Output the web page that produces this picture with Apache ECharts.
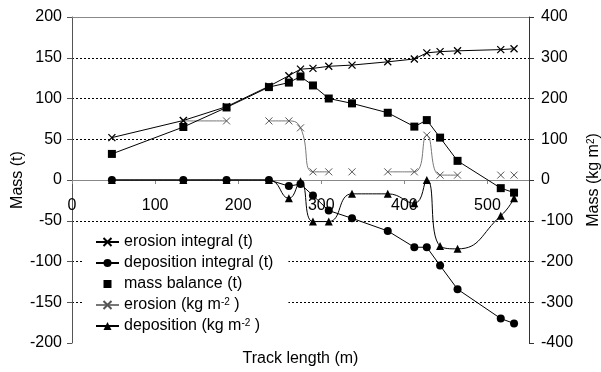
<!DOCTYPE html>
<html>
<head>
<meta charset="utf-8">
<script src="https://cdn.jsdelivr.net/npm/echarts@6/dist/echarts.min.js"></script>
<style>
  html, body { margin: 0; padding: 0; background: #fff; }
  #chart { width: 601px; height: 372px; }
</style>
</head>
<body>
<div id="chart"></div>
<script>
// track positions (m) shared by the integral series
const trackX = [48, 134, 186, 237, 261, 275, 290, 309, 337, 380, 412, 427, 443, 464, 516, 532]
const erosionIntegral = [52, 73, 90, 115, 128, 136, 137, 139.5, 141, 145, 148.5, 156, 157.5, 158.5, 160, 161]
const depositionIntegral = [0, 0, 0, 0, -7.5, -5, -19, -37.5, -47, -62.5, -82.5, -82.5, -105, -134, -170, -176]
const massBalance = [32, 65, 89, 114, 119.5, 127, 116, 100, 94, 82.5, 65.5, 73.5, 52, 23.5, -10, -15.5]
const depositionKg = [0, 0, 0, 0, -45, -3, -102, -102, -34, -34, -57, 0, -162, -169, -88, -45]
// erosion (kg m-2) has breaks in the record, null = no value
const erosionX = [134, 186, 211, 237, 261, 275, 290, 309, 323, 337, 358, 380, 412, 427, 443, 464, 490, 516, 524, 532]
const erosionKg = [145, 145, null, 145, 145, 128, 20, 20, null, 20, null, 20, 20, 110, 12, 12, null, 12, null, 12]

const leftTicks = [-200, 200, 50]
const rightTicks = [-400, 400, 100]
const xTicks = [0, 550, 100]

const FONT = 'Liberation Sans, Arial, sans-serif'
const crossSymbol = 'path://M0,0L10,10M10,0L0,10'

const pairs = (xs, ys) => xs.map((x, i) => [x, ys[i]])

const chart = echarts.init(document.getElementById('chart'), null, { renderer: 'canvas' })

const option = {
  animation: false,
  textStyle: { fontFamily: FONT },
  title: {
    text: 'Track length (m)',
    left: 'center',
    top: 346,
    textStyle: { fontSize: 16, fontWeight: 'normal', color: '#000', fontFamily: FONT }
  },
  grid: { left: 72, right: 72, top: 17, bottom: 29, outerBoundsMode: 'none', containLabel: false },
  legend: {
    orient: 'vertical',
    left: 82,
    top: 230,
    padding: [4, 15, 11, 13],
    backgroundColor: '#fff',
    itemWidth: 23,
    itemHeight: 10,
    itemGap: 5,
    textStyle: {
      fontSize: 16,
      color: '#000',
      fontFamily: FONT,
      rich: {
        sup: { fontSize: 10, verticalAlign: 'top', fontFamily: FONT, color: '#000' }
      }
    },
    formatter: function (name) {
      return name.replace('m-2', 'm{sup|-2} ')
    },
    data: [
      { name: 'erosion integral (t)' },
      { name: 'deposition integral (t)' },
      { name: 'mass balance (t)', lineStyle: { opacity: 0 } },
      { name: 'erosion (kg m-2)' },
      { name: 'deposition (kg m-2)' }
    ]
  },
  xAxis: [{
    type: 'value',
    min: xTicks[0],
    max: xTicks[1],
    interval: xTicks[2],
    position: 'bottom',
    offset: -163, // axis runs through y = 0, half way up the plot
    axisLine: { onZero: false, lineStyle: { color: '#888', width: 1 } },
    axisTick: { show: true, length: 4, lineStyle: { color: '#888' } },
    axisLabel: { margin: 18, fontSize: 16, color: '#000', fontFamily: FONT, showMaxLabel: false },
    splitLine: { show: false }
  }, {
    type: 'value',
    position: 'top',
    min: xTicks[0],
    max: xTicks[1],
    axisLine: { show: true, onZero: false, lineStyle: { color: '#888', width: 1 } },
    axisTick: { show: false },
    axisLabel: { show: false },
    splitLine: { show: false }
  }],
  yAxis: [{
    type: 'value',
    min: leftTicks[0],
    max: leftTicks[1],
    interval: leftTicks[2],
    name: 'Mass (t)',
    nameLocation: 'middle',
    nameRotate: 90,
    nameGap: 46,
    nameMoveOverlap: false,
    nameTextStyle: { fontSize: 16, color: '#000', fontFamily: FONT },
    axisLine: { show: true, onZero: false, lineStyle: { color: '#555' } },
    axisTick: { show: true, length: 5, lineStyle: { color: '#555' } },
    axisLabel: { margin: 10, fontSize: 16, color: '#000', fontFamily: FONT },
    splitLine: {
      show: true,
      showMinLine: false,
      showMaxLine: false,
      lineStyle: { color: '#000', type: [2, 2], width: 1 }
    }
  }, {
    type: 'value',
    position: 'right',
    min: rightTicks[0],
    max: rightTicks[1],
    interval: rightTicks[2],
    name: 'Mass (kg m{sup|2})',
    nameLocation: 'middle',
    nameRotate: 90,
    nameGap: 57,
    nameMoveOverlap: false,
    nameTextStyle: {
      fontSize: 16, color: '#000', fontFamily: FONT,
      rich: { sup: { fontSize: 10, verticalAlign: 'top', color: '#000', fontFamily: FONT } }
    },
    axisLine: { show: true, onZero: false, lineStyle: { color: '#333' } },
    axisTick: { show: true, length: 5, lineStyle: { color: '#333' } },
    axisLabel: { margin: 12, fontSize: 16, color: '#000', fontFamily: FONT },
    splitLine: { show: false }
  }],
  series: [{
    name: 'erosion (kg m-2)',
    type: 'line',
    yAxisIndex: 1,
    smooth: 0.5,
    connectNulls: false,
    symbol: crossSymbol,
    symbolSize: 7,
    itemStyle: { color: 'rgba(0,0,0,0)', borderColor: '#555', borderWidth: 1 },
    lineStyle: { color: '#777', width: 1 },
    data: pairs(erosionX, erosionKg)
  }, {
    name: 'deposition (kg m-2)',
    type: 'line',
    yAxisIndex: 1,
    smooth: 0.5,
    symbol: 'triangle',
    symbolSize: 8,
    itemStyle: { color: '#000', borderWidth: 0 },
    lineStyle: { color: '#000', width: 1 },
    data: pairs(trackX, depositionKg)
  }, {
    name: 'erosion integral (t)',
    type: 'line',
    symbol: crossSymbol,
    symbolSize: 7,
    itemStyle: { color: 'rgba(0,0,0,0)', borderColor: '#000', borderWidth: 1.3 },
    lineStyle: { color: '#000', width: 1 },
    data: pairs(trackX, erosionIntegral)
  }, {
    name: 'deposition integral (t)',
    type: 'line',
    symbol: 'circle',
    symbolSize: 8,
    itemStyle: { color: '#000', borderWidth: 0 },
    lineStyle: { color: '#000', width: 1 },
    data: pairs(trackX, depositionIntegral)
  }, {
    name: 'mass balance (t)',
    type: 'line',
    symbol: 'rect',
    symbolSize: 8,
    itemStyle: { color: '#000', borderWidth: 0 },
    lineStyle: { color: '#000', width: 1 },
    data: pairs(trackX, massBalance)
  }]
}

chart.setOption(option)
</script>
</body>
</html>
